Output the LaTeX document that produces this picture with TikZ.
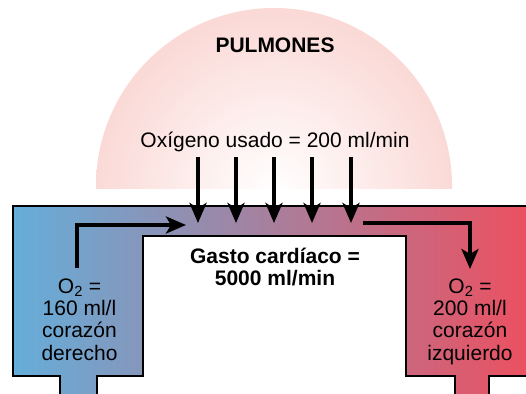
\documentclass[tikz,border=0pt]{standalone}
\usepackage{fontspec}
\setmainfont{Liberation Sans}
\usetikzlibrary{arrows.meta}
\definecolor{tubeL}{RGB}{100,174,218}
\definecolor{tubeM}{RGB}{176,144,166}
\definecolor{tubeR}{RGB}{236,80,96}
\definecolor{lungpink}{RGB}{246,182,176}
\begin{document}
\begin{tikzpicture}[x=1pt,y=-1pt,
  flow/.style={line width=4.5pt, line join=miter, -{Stealth[length=20pt,width=17pt,inset=5pt]}},
  tube/.style={line width=2.5pt, line join=miter},
  lbl/.style={font=\fontsize{21}{22.5}\selectfont, inner sep=0pt},
  bold/.style={font=\fontsize{21}{22}\selectfont\bfseries, inner sep=0pt}]
\useasboundingbox (0,0) rectangle (526,393);
% lungs
\begin{scope}
  \clip (0,0) rectangle (526,188);
  \clip (274,186) circle[radius=178];
  \shade[inner color=white, outer color=lungpink] (274,192) circle[radius=350];
\end{scope}
% tube
\shade[left color=tubeL, middle color=tubeM, right color=tubeR]
  (60,400) -- (60,376) -- (13,376) -- (13,206) -- (530,206) -- (530,376) -- (489,376) -- (489,400)
  -- (455,400) -- (455,376) -- (406,376) -- (406,236) -- (143,236) -- (143,376) -- (97,376) -- (97,400) -- cycle;
\draw[tube] (60,400) -- (60,376) -- (13,376) -- (13,206) -- (530,206);
\draw[tube] (97,400) -- (97,376) -- (143,376) -- (143,236) -- (406,236) -- (406,376) -- (455,376) -- (455,400);
\draw[tube] (489,400) -- (489,376) -- (530,376);
% texts
\node[bold, anchor=base] (pul) at (275,53) {PULMONES};
\node[lbl, anchor=base] (oxy) at (275,147) {Oxígeno usado = 200 ml/min};
\node[bold, anchor=base] (gc1) at (275,263) {Gasto cardíaco =};
\node[bold, anchor=base] (gc2) at (275,285) {5000 ml/min};
\node[lbl, anchor=base] (l1) at (79.5,293) {O\textsubscript{2} =};
\node[lbl, anchor=base] (l2) at (79.5,315) {160 ml/l};
\node[lbl, anchor=base] (l3) at (79.5,337) {corazón};
\node[lbl, anchor=base] (l4) at (79.5,360) {derecho};
\node[lbl, anchor=base] (r1) at (470,293) {O\textsubscript{2} =};
\node[lbl, anchor=base] (r2) at (470,315) {200 ml/l};
\node[lbl, anchor=base] (r3) at (470,337) {corazón};
\node[lbl, anchor=base] (r4) at (470,360) {izquierdo};
% arrows
\coordinate (la0) at (77,268);
\coordinate (la1) at (77,225);
\coordinate (la2) at (186,225);
\draw[flow] (la0) -- (la1) -- (la2);
\foreach \i/\x in {1/198,2/236,3/274,4/312,5/351}{
  \coordinate (ds\i) at (\x,157);
  \coordinate (de\i) at (\x,223);
  \draw[flow] (ds\i) -- (de\i);
}
\coordinate (ra0) at (363,223);
\coordinate (ra1) at (470,223);
\coordinate (ra2) at (470,269);
\draw[flow] (ra0) -- (ra1) -- (ra2);
\end{tikzpicture}
\end{document}
